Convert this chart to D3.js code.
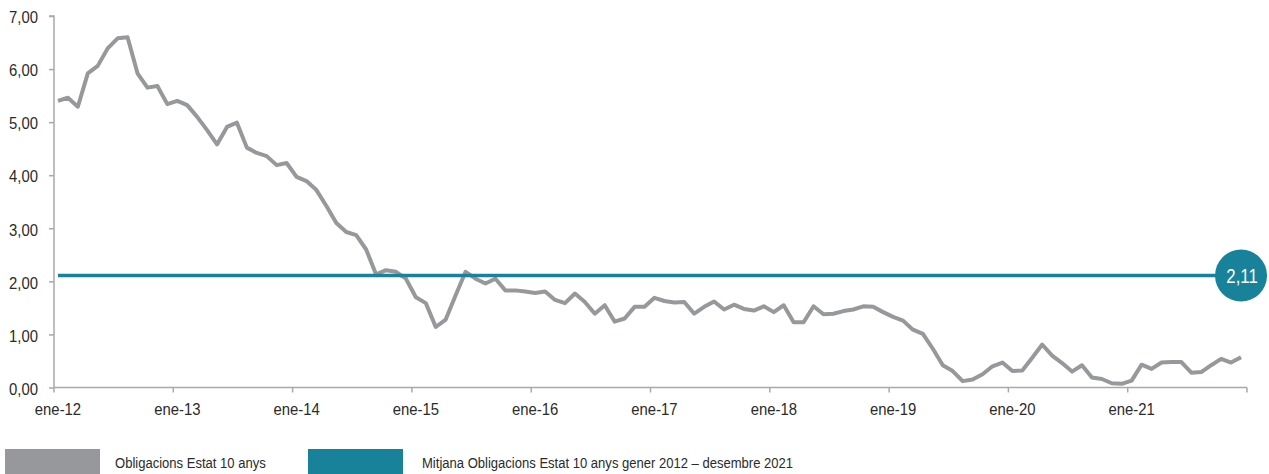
<!DOCTYPE html>
<html>
<head>
<meta charset="utf-8">
<script src="https://cdn.jsdelivr.net/npm/d3@7"></script>
<style>
  html, body { margin: 0; padding: 0; background: #ffffff; }
  svg { display: block; }
  text { font-family: "Liberation Sans", Arial, sans-serif; fill: #2b2b2b; }
</style>
</head>
<body>
<svg id="chart" width="1269" height="474"></svg>
<script>
// ---- DATA ----
const yearLabels = ["ene-12","ene-13","ene-14","ene-15","ene-16","ene-17","ene-18","ene-19","ene-20","ene-21"];
const yTickValues = [0,1,2,3,4,5,6,7];
const bondYield = [
  5.40,5.46,5.29,5.92,6.06,6.39,6.58,6.60,5.92,5.65,5.68,5.34,
  5.40,5.32,5.10,4.85,4.58,4.91,4.99,4.52,4.42,4.36,4.19,4.23,
  3.97,3.89,3.72,3.42,3.10,2.93,2.87,2.60,2.13,2.21,2.18,2.05,
  1.70,1.59,1.14,1.28,1.74,2.18,2.05,1.96,2.05,1.83,1.83,1.81,
  1.78,1.81,1.65,1.59,1.77,1.61,1.39,1.55,1.24,1.30,1.52,1.52,
  1.69,1.63,1.60,1.61,1.39,1.52,1.62,1.47,1.56,1.48,1.45,1.53,
  1.42,1.55,1.23,1.23,1.53,1.38,1.39,1.44,1.47,1.53,1.52,1.42,
  1.33,1.26,1.09,1.01,0.73,0.42,0.31,0.12,0.15,0.25,0.40,0.47,
  0.31,0.32,0.56,0.81,0.60,0.46,0.30,0.42,0.19,0.16,0.08,0.07,
  0.13,0.43,0.35,0.47,0.48,0.48,0.28,0.29,0.42,0.54,0.47,0.57
];
const averageValue = 2.11;
const seriesNames = ["Obligacions Estat 10 anys", "Mitjana Obligacions Estat 10 anys gener 2012 \u2013 desembre 2021"];

// ---- LAYOUT ----
const plotL = 54, plotR = 1247, plotT = 16, plotB = 387.5;
const grayCol = "#97989b";
const tealCol = "#18829a";
const axisCol = "#a9a9ab";

const svg = d3.select("#chart");
const months = d3.range(bondYield.length);

const x = d3.scaleBand().domain(months).range([plotL, plotR]).paddingInner(0).paddingOuter(0);
const xc = i => x(i) + x.bandwidth() / 2 - 1;
const y = d3.scaleLinear().domain([0, 7]).range([plotB, plotT]);

// Y axis
const yAxis = d3.axisLeft(y).tickValues(yTickValues).tickSize(5).tickPadding(10)
  .tickFormat(d => d3.format(".2f")(d).replace(".", ","));
const gy = svg.append("g").attr("transform", `translate(${plotL},0)`).call(yAxis);
gy.select(".domain").attr("stroke", axisCol).attr("stroke-width", 1.5).attr("d", `M-5,${plotT}H0V${plotB}`);
gy.selectAll(".tick line").attr("stroke", axisCol).attr("stroke-width", 1.5);
gy.selectAll(".tick text").attr("font-size", 16).attr("dy", "0.42em")
  .attr("x", 0).attr("transform", "translate(-16,0) scale(0.93,1)").style("fill", "#2b2b2b");
gy.selectAll("text").attr("font-family", "'Liberation Sans', Arial, sans-serif");

// X axis: ticks at every January boundary + end
const tickIdx = d3.range(0, bondYield.length + 1, 12);
const xTickScale = i => i < bondYield.length ? x(i) : plotR;
const gx = svg.append("g");
gx.append("line").attr("x1", plotL).attr("x2", plotR).attr("y1", plotB).attr("y2", plotB)
  .attr("stroke", axisCol).attr("stroke-width", 1.5);
gx.selectAll("line.tk").data(tickIdx).join("line").attr("class", "tk")
  .attr("x1", d => xTickScale(d)).attr("x2", d => xTickScale(d))
  .attr("y1", plotB).attr("y2", plotB + 5)
  .attr("stroke", axisCol).attr("stroke-width", 1.5);
gx.selectAll("text").data(yearLabels).join("text")
  .attr("transform", (d, i) => `translate(${xc(i * 12)},415) scale(0.93,1)`)
  .attr("text-anchor", "middle")
  .attr("font-size", 16)
  .text(d => d);

// Series line
const line = d3.line().x((d, i) => xc(i)).y(d => y(d));
svg.append("path").datum(bondYield)
  .attr("d", line)
  .attr("fill", "none")
  .attr("stroke", grayCol)
  .attr("stroke-width", 4)
  .attr("stroke-linejoin", "round");

// Average line
const avgData = [averageValue, averageValue];
const avgX = [xc(0), xc(bondYield.length - 1)];
svg.append("path").datum(avgData)
  .attr("d", d3.line().x((d, i) => avgX[i]).y(d => y(d)))
  .attr("stroke", tealCol).attr("stroke-width", 3.5).attr("fill", "none");

svg.append("circle")
  .attr("cx", avgX[1]).attr("cy", y(averageValue))
  .attr("r", 26).attr("fill", tealCol);
svg.append("text")
  .attr("transform", `translate(${avgX[1] + 1},${y(averageValue)}) scale(0.8,1)`)
  .attr("dy", "0.36em")
  .attr("text-anchor", "middle")
  .attr("font-size", 21)
  .style("fill", "#ffffff")
  .text(d3.format(".2f")(averageValue).replace(".", ","));

// Legend
const legend = svg.append("g");
const legendItems = [
  { name: seriesNames[0], color: grayCol, rx: 5, tx: 115 },
  { name: seriesNames[1], color: tealCol, rx: 308, tx: 422 }
];
legend.selectAll("rect").data(legendItems).join("rect")
  .attr("x", d => d.rx).attr("y", 449).attr("width", 95).attr("height", 26)
  .attr("fill", d => d.color);
legend.selectAll("text").data(legendItems).join("text")
  .attr("transform", d => `translate(${d.tx},468) scale(0.9,1)`)
  .attr("font-size", 14.5)
  .text(d => d.name);
</script>
</body>
</html>
